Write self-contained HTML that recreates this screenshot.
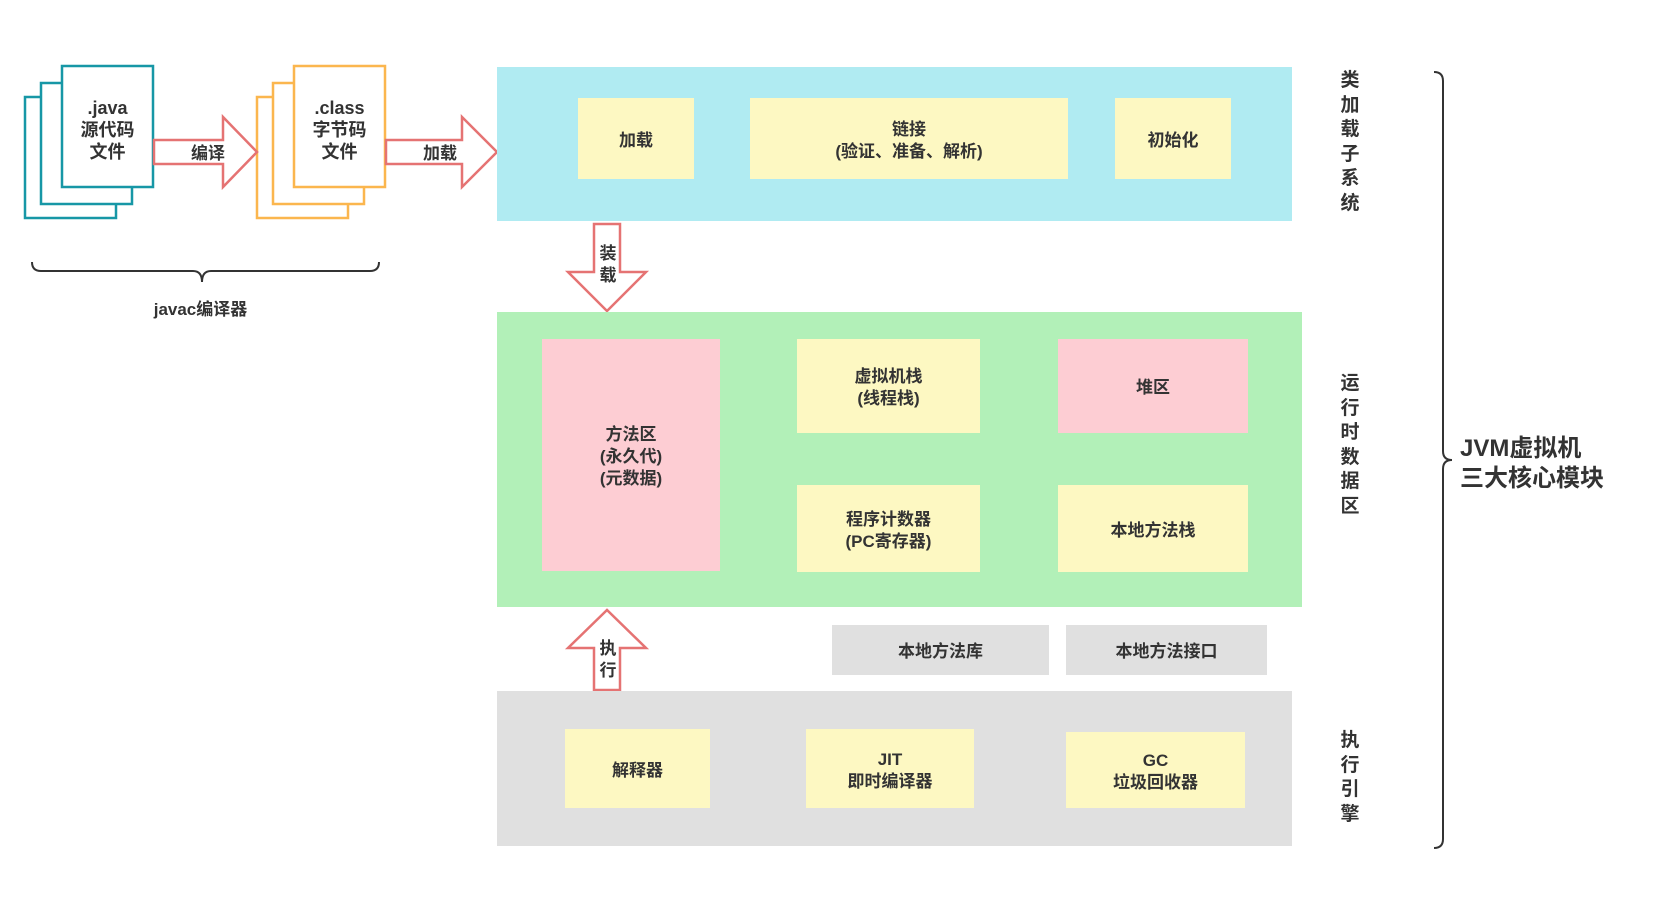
<!DOCTYPE html>
<html><head><meta charset="utf-8"><style>
*{margin:0;padding:0;box-sizing:border-box}
body{width:1669px;height:913px;background:#fff;position:relative;overflow:hidden;font-family:"Liberation Sans","Noto Sans CJK SC",sans-serif;font-weight:bold;color:#333}
.b{position:absolute;display:flex;align-items:center;justify-content:center;text-align:center;font-size:17px;line-height:22px;padding-top:4px}
.t{padding-top:0}
.y{background:#fdf8c2}.p{background:#fdcdd3}.g{background:#e0e0e0}
.v{position:absolute;font-size:19px;line-height:24.6px;width:24px;text-align:center}
</style></head><body>
<svg width="1669" height="913" style="position:absolute;left:0;top:0">
<g fill="#fff" stroke="#1797a6" stroke-width="2.5">
<rect x="25" y="97" width="91" height="121"/><rect x="41" y="83" width="91" height="121"/><rect x="62" y="66" width="91" height="121"/></g>
<g fill="#fff" stroke="#fbb64e" stroke-width="2.5">
<rect x="257" y="97" width="91" height="121"/><rect x="273" y="83" width="91" height="121"/><rect x="294" y="66" width="91" height="121"/></g>
<g fill="#fff" stroke="#e57373" stroke-width="2.5">
<polygon points="154,140 223,140 223,117 257,152 223,187 223,164 154,164"/>
<polygon points="386,140 462,140 462,117 497,152 462,187 462,164 386,164"/>
<polygon points="594,224 620,224 620,272 646,272 607,311 568,272 594,272"/>
<polygon points="594,690 620,690 620,648 646,648 607,610 568,648 594,648"/>
</g>
<path d="M32,262 q0,9 9,9 h152 q9,0 9,11 q0,-11 9,-11 h159 q9,0 9,-9" fill="none" stroke="#333" stroke-width="2"/>
<path d="M1434,72 q9,0 9,9 v370 q0,9 9,9 q-9,0 -9,9 v370 q0,9 -9,9" fill="none" stroke="#333" stroke-width="2"/>
</svg>
<div class="b" style="left:62px;top:93px;width:91px;font-size:18px">.java<br>源代码<br>文件</div>
<div class="b" style="left:294px;top:93px;width:91px;font-size:18px">.class<br>字节码<br>文件</div>
<div class="b t" style="left:178px;top:143px;width:60px">编译</div>
<div class="b t" style="left:410px;top:143px;width:60px">加载</div>
<div class="b t" style="left:118px;top:299px;width:165px">javac编译器</div>
<div style="position:absolute;left:497px;top:67px;width:795px;height:154px;background:#b0ebf2"></div>
<div class="b y" style="left:578px;top:98px;width:116px;height:81px">加载</div>
<div class="b y" style="left:750px;top:98px;width:318px;height:81px">链接<br>(验证、准备、解析)</div>
<div class="b y" style="left:1115px;top:98px;width:116px;height:81px">初始化</div>
<div class="b t" style="left:595px;top:243px;width:26px">装<br>载</div>
<div style="position:absolute;left:497px;top:312px;width:805px;height:295px;background:#b2f0b8"></div>
<div class="b p" style="left:542px;top:339px;width:178px;height:232px">方法区<br>(永久代)<br>(元数据)</div>
<div class="b y" style="left:797px;top:339px;width:183px;height:94px">虚拟机栈<br>(线程栈)</div>
<div class="b p" style="left:1058px;top:339px;width:190px;height:94px">堆区</div>
<div class="b y" style="left:797px;top:485px;width:183px;height:87px">程序计数器<br>(PC寄存器)</div>
<div class="b y" style="left:1058px;top:485px;width:190px;height:87px">本地方法栈</div>
<div class="b t" style="left:595px;top:638px;width:26px">执<br>行</div>
<div class="b g" style="left:832px;top:625px;width:217px;height:50px">本地方法库</div>
<div class="b g" style="left:1066px;top:625px;width:201px;height:50px">本地方法接口</div>
<div style="position:absolute;left:497px;top:691px;width:795px;height:155px;background:#e0e0e0"></div>
<div class="b y" style="left:565px;top:729px;width:145px;height:79px">解释器</div>
<div class="b y" style="left:806px;top:729px;width:168px;height:79px">JIT<br>即时编译器</div>
<div class="b y" style="left:1066px;top:732px;width:179px;height:76px">GC<br>垃圾回收器</div>
<div class="v" style="left:1338px;top:69px">类加载子系统</div>
<div class="v" style="left:1338px;top:372px">运行时数据区</div>
<div class="v" style="left:1338px;top:729px">执行引擎</div>
<div style="position:absolute;left:1460px;top:434px;font-size:24px;line-height:30px">JVM虚拟机<br>三大核心模块</div>
</body></html>
